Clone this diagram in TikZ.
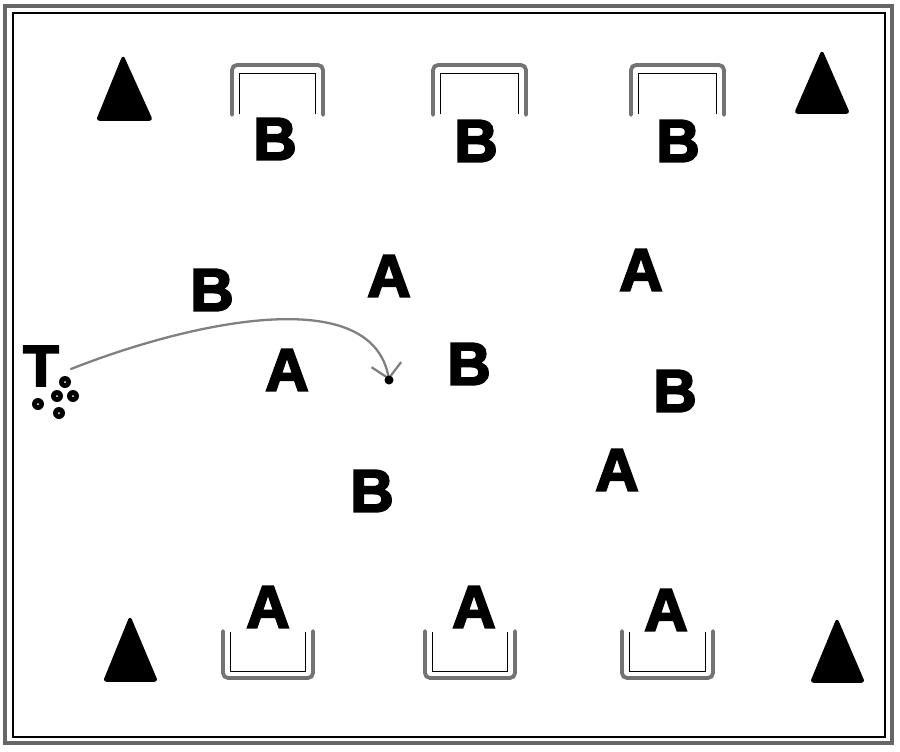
\documentclass[tikz,border=0pt]{standalone}
\usepackage{fontspec}
\usetikzlibrary{arrows.meta}
\newfontfamily\letterfont{Liberation Sans Bold}[FakeBold=3.5]
\tikzset{
  letter/.style={inner sep=0pt, font=\letterfont\fontsize{60}{60}\selectfont, text=black},
  cone/.style={fill=black, draw=black, line width=1.5pt, rounded corners=2.5pt, line join=round},
  goalpost/.style={draw=black!55, line width=3.8pt, rounded corners=5pt, line cap=round},
  goalnet/.style={draw=black, line width=0.9pt},
  ball/.style={circle, fill=black, inner sep=0pt, minimum size=12pt},
  path1/.style={draw=black!50, line width=2.3pt, line cap=round, -{Straight Barb[length=14pt, width=30pt, line width=2.3pt]}}
}
\begin{document}
\begin{tikzpicture}[x=1pt, y=-1pt]
\useasboundingbox (0,0) rectangle (900,752);
\fill[white] (0,0) rectangle (900,752);
% frame
\draw[draw=black!60, line width=4.5pt] (5,6) rectangle (892,743);
\draw[black, line width=1.1pt] (13,13) rectangle (885,737);
% cones
\path[cone] (123,56) -- (152,120) -- (97,120) -- cycle;
\path[cone] (822,51) -- (849,113) -- (795,113) -- cycle;
\path[cone] (130,617) -- (157,681) -- (104,681) -- cycle;
\path[cone] (837,619) -- (864,682) -- (811,682) -- cycle;
% top goals
\foreach \L/\R in {232/323, 433/526, 631/724}{
  \draw[goalpost] (\L,115) -- (\L,65) -- (\R,65) -- (\R,115);
  \draw[goalnet] (\L+7.5,114) -- (\L+7.5,73) -- (\R-7.5,73) -- (\R-7.5,114);
}
% bottom goals
\foreach \L/\R in {223/313, 425/515, 622/713}{
  \draw[goalpost] (\L,631) -- (\L,678) -- (\R,678) -- (\R,631);
  \draw[goalnet] (\L+7.5,632) -- (\L+7.5,671) -- (\R-7.5,671) -- (\R-7.5,632);
}
% letters
\node[letter] (b1) at (275,139) {B};
\node[letter] (b2) at (476,141) {B};
\node[letter] (b3) at (678,141) {B};
\node[letter] (b4) at (212,290) {B};
\node[letter] (a1) at (389,276) {A};
\node[letter] (a2) at (641,270) {A};
\node[letter] (a3) at (287,370) {A};
\node[letter] (b5) at (469,364) {B};
\node[letter] (b6) at (675,391) {B};
\node[letter] (a4) at (617,470) {A};
\node[letter] (b7) at (372,491) {B};
\node[letter] (a5) at (268,607) {A};
\node[letter] (a6) at (474,607) {A};
\node[letter] (a7) at (666,610) {A};
% T with balls
\node[letter, font=\letterfont\fontsize{58}{58}\selectfont] (t) at (41,366) {T};
\foreach \n/\x/\y in {d1/65/382, d2/57/396, d3/73/396, d4/38/404, d5/59/413}{
  \node[ball] (\n) at (\x,\y) {};
  \fill[white] (\n) circle (1pt);
}
% run
\coordinate (s) at (71,369);
\coordinate (e) at (389,380);
\draw[path1] (s) .. controls (190,322) and (372,282) .. (e);
\node[circle, fill=black, inner sep=0pt, minimum size=9pt] (ed) at (e) {};
\end{tikzpicture}
\end{document}
